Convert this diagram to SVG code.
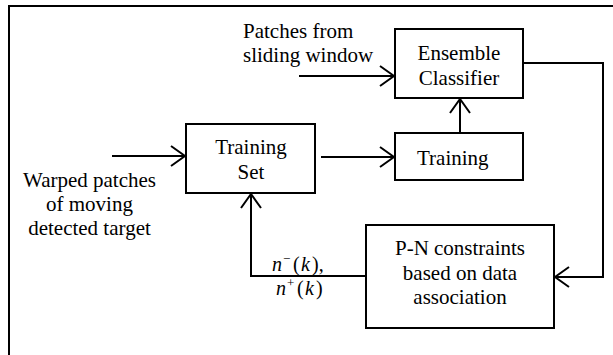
<svg xmlns="http://www.w3.org/2000/svg" width="613" height="355" viewBox="0 0 613 355">
<style>
  .box { fill: #fff; stroke: #000; stroke-width: 2; }
  .lbl { font-family: 'Liberation Serif', 'DejaVu Serif', serif; font-size: 21px; fill: #000; }
  .math { font-family: 'Liberation Serif', 'DejaVu Serif', serif; font-size: 20px; fill: #000; }
  .it { font-style: italic; }
  .sup { font-size: 13px; }
  .conn { fill: none; stroke: #000; stroke-width: 2; }
</style>
<defs>
  <marker id="arr" markerUnits="userSpaceOnUse" markerWidth="16" markerHeight="24" viewBox="0 0 16 24" refX="15" refY="12" orient="auto">
    <path d="M1,2 L15,12 L1,22" fill="none" stroke="#000" stroke-width="2"/>
  </marker>
</defs>
<rect x="0" y="0" width="613" height="355" fill="#fff"/>
<path d="M9,355 V6 H613" fill="none" stroke="#000" stroke-width="2"/>

<g id="connectors">
  <path class="conn" d="M112,156 H185" marker-end="url(#arr)"/>
  <path class="conn" d="M299,76 H394" marker-end="url(#arr)"/>
  <path class="conn" d="M321,157 H394" marker-end="url(#arr)"/>
  <path class="conn" d="M460,133 V99" marker-end="url(#arr)"/>
  <path class="conn" d="M523,63 H603 V277 H555" marker-end="url(#arr)"/>
  <path class="conn" d="M366,276 H251 V194" marker-end="url(#arr)"/>
</g>

<g id="input-warped">
  <text class="lbl" text-anchor="middle" x="89.5" y="187">Warped patches</text>
  <text class="lbl" text-anchor="middle" x="89.5" y="211">of moving</text>
  <text class="lbl" text-anchor="middle" x="89.5" y="235">detected target</text>
</g>

<g id="input-patches">
  <text class="lbl" x="243" y="38">Patches from</text>
  <text class="lbl" x="243" y="62">sliding window</text>
</g>

<g id="training-set">
  <rect class="box" x="186" y="124" width="129" height="69"/>
  <text class="lbl" text-anchor="middle" x="251" y="154">Training</text>
  <text class="lbl" text-anchor="middle" x="251" y="179">Set</text>
</g>

<g id="ensemble-classifier">
  <rect class="box" x="395" y="29" width="128" height="69"/>
  <text class="lbl" text-anchor="middle" x="459" y="60">Ensemble</text>
  <text class="lbl" text-anchor="middle" x="459" y="85">Classifier</text>
</g>

<g id="training">
  <rect class="box" x="395" y="133" width="128" height="47"/>
  <text class="lbl" x="417" y="165">Training</text>
</g>

<g id="pn-constraints">
  <rect class="box" x="366" y="225" width="188" height="103"/>
  <text class="lbl" text-anchor="middle" x="460" y="255">P-N constraints</text>
  <text class="lbl" text-anchor="middle" x="460" y="280">based on data</text>
  <text class="lbl" text-anchor="middle" x="460" y="304">association</text>
</g>

<g id="pn-label">
  <text class="math" y="271"><tspan class="it" x="272">n</tspan><tspan class="sup" x="283" y="263">−</tspan><tspan x="293" y="271">(</tspan><tspan class="it" x="301">k</tspan><tspan x="312">),</tspan></text>
  <text class="math" y="295"><tspan class="it" x="276">n</tspan><tspan class="sup" x="287" y="287">+</tspan><tspan x="297" y="295">(</tspan><tspan class="it" x="305">k</tspan><tspan x="316">)</tspan></text>
</g>
</svg>
